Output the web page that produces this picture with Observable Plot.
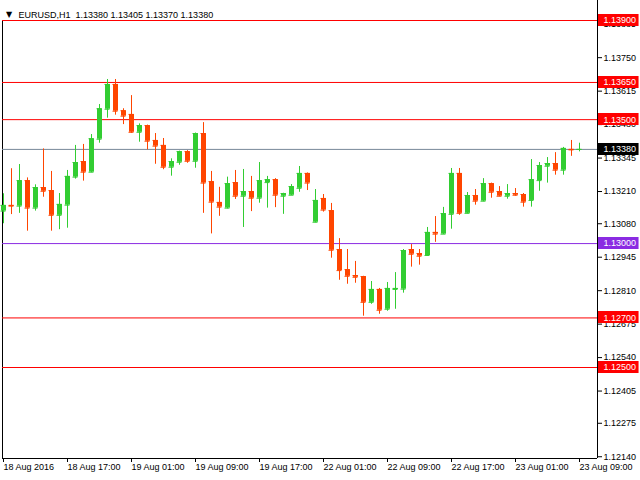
<!DOCTYPE html>
<html><head><meta charset="utf-8">
<script src="https://cdn.jsdelivr.net/npm/d3@7"></script>
<script src="https://cdn.jsdelivr.net/npm/@observablehq/plot@0.6"></script>
<style>body{margin:0;background:#fff} svg{display:block}</style>
</head><body><div id="chart"></div>
<script>
const titleSymbol = "EURUSD,H1";
const titleOHLC = "1.13380 1.13405 1.13370 1.13380";

const opens = [1.13131,1.13154,1.13151,1.13254,1.13143,1.13226,1.13214,1.13114,1.13155,1.13268,
1.13331,1.13288,1.13421,1.13542,1.13642,1.13536,1.13521,1.13449,1.13476,1.13416,
1.13396,1.13308,1.13328,1.13371,1.13332,1.13444,1.13250,1.13166,1.13143,1.13246,
1.13191,1.13210,1.13183,1.13246,1.13258,1.13191,1.13195,1.13223,1.13283,1.13086,
1.13182,1.13133,1.12976,1.12895,1.12871,1.12867,1.12763,1.12815,1.12735,1.12815,
1.12816,1.12976,1.12960,1.12952,1.13045,1.13038,1.13118,1.13283,1.13122,1.13194,
1.13171,1.13242,1.13210,1.13191,1.13202,1.13198,1.13174,1.13254,1.13312,1.13323,
1.13296,1.13380,1.13380];
const highs = [1.13201,1.13302,1.13319,1.13265,1.13237,1.13382,1.13291,1.13202,1.13295,1.13396,
1.13400,1.13440,1.13561,1.13662,1.13662,1.13544,1.13597,1.13483,1.13478,1.13444,
1.13424,1.13342,1.13373,1.13375,1.13446,1.13488,1.13291,1.13227,1.13268,1.13295,
1.13299,1.13271,1.13327,1.13271,1.13262,1.13203,1.13238,1.13311,1.13285,1.13218,
1.13198,1.13162,1.13020,1.12976,1.12928,1.12868,1.12847,1.12819,1.12843,1.12883,
1.12976,1.12996,1.12976,1.13065,1.13109,1.13146,1.13303,1.13303,1.13206,1.13218,
1.13262,1.13244,1.13230,1.13238,1.13222,1.13202,1.13339,1.13327,1.13347,1.13367,
1.13388,1.13416,1.13405];
const lows = [1.13080,1.13117,1.13122,1.13050,1.13131,1.13187,1.13050,1.13056,1.13062,1.13260,
1.13252,1.13286,1.13405,1.13506,1.13518,1.13480,1.13445,1.13409,1.13378,1.13320,
1.13298,1.13272,1.13316,1.13324,1.13304,1.13122,1.13039,1.13110,1.13140,1.13178,
1.13065,1.13129,1.13163,1.13143,1.13145,1.13118,1.13194,1.13207,1.13214,1.13084,
1.13127,1.12941,1.12852,1.12836,1.12840,1.12707,1.12755,1.12715,1.12727,1.12735,
1.12800,1.12905,1.12913,1.12949,1.13005,1.13037,1.13058,1.13114,1.13120,1.13155,
1.13169,1.13183,1.13189,1.13179,1.13191,1.13147,1.13147,1.13211,1.13244,1.13276,
1.13276,1.13352,1.13370];
const closes = [1.13154,1.13151,1.13254,1.13143,1.13226,1.13211,1.13114,1.13158,1.13271,1.13327,
1.13288,1.13423,1.13544,1.13642,1.13534,1.13514,1.13449,1.13476,1.13413,1.13393,
1.13308,1.13331,1.13371,1.13332,1.13444,1.13244,1.13167,1.13147,1.13242,1.13191,
1.13210,1.13183,1.13254,1.13258,1.13195,1.13202,1.13230,1.13283,1.13244,1.13174,
1.13135,1.12973,1.12891,1.12868,1.12864,1.12763,1.12815,1.12731,1.12819,1.12819,
1.12972,1.12957,1.12949,1.13045,1.13038,1.13121,1.13283,1.13122,1.13194,1.13171,
1.13242,1.13207,1.13191,1.13202,1.13195,1.13167,1.13258,1.13315,1.13323,1.13296,
1.13384,1.13378,1.13380];

const xTickIdx = [0,8,16,24,32,40,48,56,64,72];
const xTickLabels = ["18 Aug 2016","18 Aug 17:00","19 Aug 01:00","19 Aug 09:00","19 Aug 17:00",
  "22 Aug 01:00","22 Aug 09:00","22 Aug 17:00","23 Aug 01:00","23 Aug 09:00"];
const yTicks = [1.13885,1.13750,1.13615,1.13480,1.13345,1.13210,1.13080,1.12945,1.12810,1.12675,1.12540,1.12405,1.12275,1.12140];

const levelValues = [1.13900,1.13650,1.13500,1.13380,1.13000,1.12700,1.12500];
const levelLineColors = ["#ff0000","#ff0000","#ff0000","#778899","#8a2be2","#ff0000","#ff0000"];
const levelBoxColors = ["#ff0000","#ff0000","#ff0000","#000000","#8a2be2","#ff0000","#ff0000"];

const upColor = "#32cd32", downColor = "#ff4500";

const W = 640, H = 480, mL = 2, mR = 43, mT = 0, mB = 22;
const xDomain = [-0.125, 74.25];
const yDomain = [1.121329, 1.139807];

const candles = opens.map((o, i) => ({i, open: o, high: highs[i], low: lows[i], close: closes[i],
  color: closes[i] >= o ? upColor : downColor}));
const hw = 0.3125;
const levelLabels = levelValues.map(v => v.toFixed(5));

const svg = Plot.plot({
  width: W, height: H,
  marginLeft: mL, marginRight: mR, marginTop: mT, marginBottom: mB,
  style: "font-family: 'Liberation Sans', Arial, sans-serif; font-size: 9px; color: black; background: white; overflow: visible;",
  x: {type: "linear", domain: xDomain},
  y: {type: "linear", domain: yDomain},
  color: {type: "identity"},
  marks: [
    Plot.axisY({anchor: "right", ticks: yTicks, tickFormat: d => d.toFixed(5), tickSize: 4, tickPadding: 2, label: null}),
    Plot.axisX({ticks: xTickIdx, tickFormat: d => xTickLabels[xTickIdx.indexOf(d)], tickSize: 4, tickPadding: 1, textAnchor: "start", label: null}),
    Plot.ruleX([xDomain[1]], {stroke: "black"}),
    Plot.ruleY([yDomain[0]], {stroke: "black"}),
    Plot.ruleX([xDomain[0]], {y1: yDomain[0], y2: levelValues[0], stroke: "black"}),
    Plot.ruleY(levelValues, {y: d => d, stroke: (d, i) => levelLineColors[i], strokeWidth: 1}),
    Plot.ruleX(candles, {x: "i", y1: "low", y2: "high", stroke: "color", strokeWidth: 1}),
    Plot.ruleX(candles, {x: "i", y1: "open", y2: "close", stroke: "color", strokeWidth: 5}),
    Plot.ruleY(candles, {y: "open", x1: d => d.i - hw, x2: d => d.i + hw, stroke: "color", strokeWidth: 1}),
    Plot.ruleY(candles, {y: "close", x1: d => d.i - hw, x2: d => d.i + hw, stroke: "color", strokeWidth: 1}),
    Plot.text(levelValues, {y: d => d, text: (d, i) => levelLabels[i], frameAnchor: "right", dx: 6, textAnchor: "start", fill: "white"}),
    Plot.text(["\u25BC"], {frameAnchor: "top-left", dx: 6.5, dy: 11, text: d => d, textAnchor: "middle", fontSize: 8, fontFamily: "DejaVu Sans", fill: "black"}),
    Plot.text([titleSymbol + "  " + titleOHLC], {frameAnchor: "top-left", dx: 16, dy: 11, text: d => d, textAnchor: "start", fill: "black"})
  ]
});
document.getElementById("chart").append(svg);

// coloured label boxes behind the white level price texts
const yPix = d3.scaleLinear().domain(yDomain).range([H - mB, mT]);
const svgRect = svg.getBoundingClientRect();
const NS = "http://www.w3.org/2000/svg";
const boxLayer = document.createElementNS(NS, "g");
let firstLevelG = null;
Array.from(svg.querySelectorAll("text")).forEach(t => {
  const k = levelLabels.indexOf(t.textContent);
  if (k < 0) return;
  const g = t.closest("g");
  if (!g || g.getAttribute("fill") !== "white") return;
  if (!firstLevelG) firstLevelG = g;
  const r = t.getBoundingClientRect();
  const x0 = r.left - svgRect.left - 5.5;
  const yc = Math.round(yPix(levelValues[k])) + 0.5;
  const rect = document.createElementNS(NS, "rect");
  rect.setAttribute("x", x0);
  rect.setAttribute("y", yc - 6.5);
  rect.setAttribute("width", r.width + 8);
  rect.setAttribute("height", 12);
  rect.setAttribute("fill", levelBoxColors[k]);
  boxLayer.appendChild(rect);
});
if (firstLevelG) svg.insertBefore(boxLayer, firstLevelG);
</script>
</body></html>
